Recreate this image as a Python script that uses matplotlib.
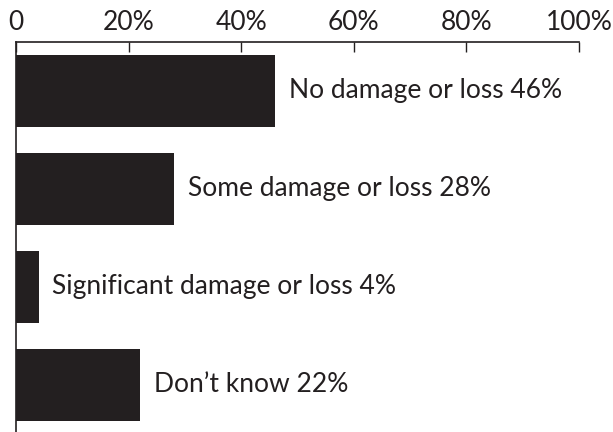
import matplotlib
matplotlib.use('Agg')
import matplotlib.pyplot as plt

categories = ['No damage or loss', 'Some damage or loss', 'Significant damage or loss', "Don\u2019t know"]
values = [46, 28, 4, 22]
tick_values = [0, 20, 40, 60, 80, 100]
tick_labels = ['0', '20%', '40%', '60%', '80%', '100%']

ink = '#231f20'
plt.rcParams['font.family'] = ['Lato', 'DejaVu Sans']

fig = plt.figure(figsize=(6.13, 4.32), dpi=100)
ax = fig.add_axes([16 / 613, 0, (579 - 16) / 613, 1 - 42 / 432])

pos = list(range(len(values)))
ax.barh(pos, values, height=0.735, color=ink)

for p, v, c in zip(pos, values, categories):
    ax.annotate(f'{c} {v}%', (v, p), xytext=(10, 0), textcoords='offset points',
                va='center', ha='left', fontsize=19, color=ink)

ax.set_xlim(0, 100)
ax.set_ylim(3.48, -0.5)
ax.xaxis.tick_top()
ax.set_xticks(tick_values)
ax.set_xticklabels(tick_labels)
ax.tick_params(axis='x', direction='in', length=7, width=1, colors=ink,
               labelsize=19, pad=5, labelcolor=ink)
ax.set_yticks([])
for s in ['right', 'bottom']:
    ax.spines[s].set_visible(False)
for s in ['top', 'left']:
    ax.spines[s].set_linewidth(1.2)
    ax.spines[s].set_color(ink)

fig.savefig('out.png', dpi=100)
